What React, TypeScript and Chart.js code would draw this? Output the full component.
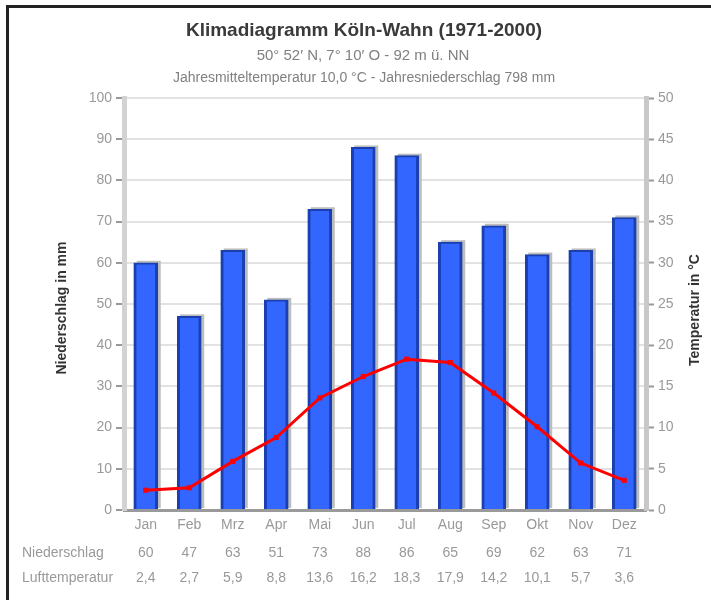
import React, { useEffect, useRef } from "react";
import { Chart, registerables } from "chart.js";

Chart.register(...registerables);

const months = ["Jan", "Feb", "Mrz", "Apr", "Mai", "Jun", "Jul", "Aug", "Sep", "Okt", "Nov", "Dez"];
const precipitation = [60, 47, 63, 51, 73, 88, 86, 65, 69, 62, 63, 71];
const temperature = [2.4, 2.7, 5.9, 8.8, 13.6, 16.2, 18.3, 17.9, 14.2, 10.1, 5.7, 3.6];
const titleText = "Klimadiagramm Köln-Wahn (1971-2000)";
const subtitle1 = "50° 52′ N, 7° 10′ O - 92 m ü. NN";
const subtitle2 = "Jahresmitteltemperatur 10,0 °C - Jahresniederschlag 798 mm";
const leftAxisTitle = "Niederschlag in mm";
const rightAxisTitle = "Temperatur in °C";
const rowLabels = ["Niederschlag", "Lufttemperatur"];

const FONT = "'Liberation Sans', Arial, sans-serif";

const shadowPlugin = {
  id: "barShadow",
  beforeDatasetsDraw(chart: any) {
    const meta = chart.getDatasetMeta(0);
    const ctx = chart.ctx;
    ctx.save();
    ctx.fillStyle = "#bdbdbd";
    meta.data.forEach((bar: any) => {
      const w = bar.width;
      ctx.fillRect(bar.x - w / 2 + 3, bar.y - 2, w, bar.base - bar.y + 2 - 1);
    });
    ctx.restore();
  },
};

const textPlugin = {
  id: "texts",
  afterDraw(chart: any) {
    const ctx = chart.ctx;
    const xs = chart.scales.x;
    ctx.save();
    // frame
    ctx.fillStyle = "#222";
    ctx.fillRect(6, 5, 3, 600);
    ctx.fillRect(6, 5, 711, 3);

    ctx.textAlign = "center";
    ctx.textBaseline = "middle";
    ctx.fillStyle = "#3a3a3a";
    ctx.font = `bold 19px ${FONT}`;
    ctx.fillText(titleText, 364, 31);
    ctx.fillStyle = "#808080";
    ctx.font = `15px ${FONT}`;
    ctx.fillText(subtitle1, 363, 56);
    ctx.font = `14px ${FONT}`;
    ctx.fillText(subtitle2, 364, 78);

    // axis titles
    ctx.fillStyle = "#333";
    ctx.font = `bold 14px ${FONT}`;
    ctx.save();
    ctx.translate(62, 308);
    ctx.rotate(-Math.PI / 2);
    ctx.fillText(leftAxisTitle, 0, 0);
    ctx.restore();
    ctx.save();
    ctx.translate(695, 310);
    ctx.rotate(-Math.PI / 2);
    ctx.fillText(rightAxisTitle, 0, 0);
    ctx.restore();

    // table
    ctx.fillStyle = "#999";
    ctx.font = `14px ${FONT}`;
    ctx.textAlign = "left";
    ctx.fillText(rowLabels[0], 22, 553);
    ctx.fillText(rowLabels[1], 22, 578);
    ctx.textAlign = "center";
    months.forEach((_, i) => {
      const x = xs.getPixelForValue(i);
      ctx.fillText(String(precipitation[i]), x, 553);
      ctx.fillText(temperature[i].toFixed(1).replace(".", ","), x, 578);
    });
    ctx.restore();
  },
};

export default function App() {
  const ref = useRef<HTMLCanvasElement | null>(null);
  useEffect(() => {
    if (!ref.current) return;
    const chart = new Chart(ref.current, {
      type: "bar",
      data: {
        labels: months,
        datasets: [
          {
            type: "bar",
            label: "Niederschlag",
            data: precipitation,
            yAxisID: "y",
            backgroundColor: "#3366ff",
            borderColor: "#1a3fb0",
            borderWidth: { left: 3, right: 3, top: 2, bottom: 0 } as any,
            borderSkipped: false,
            barThickness: 24,
            order: 2,
          },
          {
            type: "line",
            label: "Temperatur",
            data: temperature,
            yAxisID: "y1",
            borderColor: "#ff0000",
            backgroundColor: "#ff0000",
            borderWidth: 3,
            pointRadius: 1.5,
            pointStyle: "rect",
            tension: 0,
            order: 1,
          },
        ] as any,
      },
      options: {
        responsive: false,
        animation: false,
        layout: { padding: { top: 98, left: 0, right: 0, bottom: 0 } },
        plugins: { legend: { display: false }, tooltip: { enabled: false }, title: { display: false } },
        scales: {
          x: {
            grid: { display: false, drawTicks: false },
            border: { display: true, color: "#9a9a9a", width: 3 },
            ticks: { color: "#999", font: { size: 14, family: FONT }, padding: 7 },
            afterFit: (s: any) => {
              s.height = 90;
            },
          },
          y: {
            position: "left",
            min: 0,
            max: 100,
            ticks: { stepSize: 10, color: "#999", font: { size: 14, family: FONT }, padding: 4 },
            grid: { color: "#e2e2e2", lineWidth: 2, tickLength: 8, tickColor: "#999", tickWidth: 2 },
            border: { color: "#d2d2d2", width: 5 },
            afterFit: (s: any) => {
              s.width = 124;
            },
          },
          y1: {
            position: "right",
            min: 0,
            max: 50,
            ticks: { stepSize: 5, color: "#999", font: { size: 14, family: FONT }, padding: 4 },
            grid: { drawOnChartArea: false, tickLength: 8, tickColor: "#999", tickWidth: 2 },
            border: { color: "#c8c8c8", width: 5 },
            afterFit: (s: any) => {
              s.width = 65;
            },
          },
        },
      } as any,
      plugins: [shadowPlugin, textPlugin],
    });
    return () => chart.destroy();
  }, []);
  return (
    <div style={{ position: "absolute", left: 0, top: 0, width: 711, height: 600, background: "#fff", overflow: "hidden" }}>
      <canvas ref={ref} width={711} height={600} style={{ display: "block" }} />
    </div>
  );
}
